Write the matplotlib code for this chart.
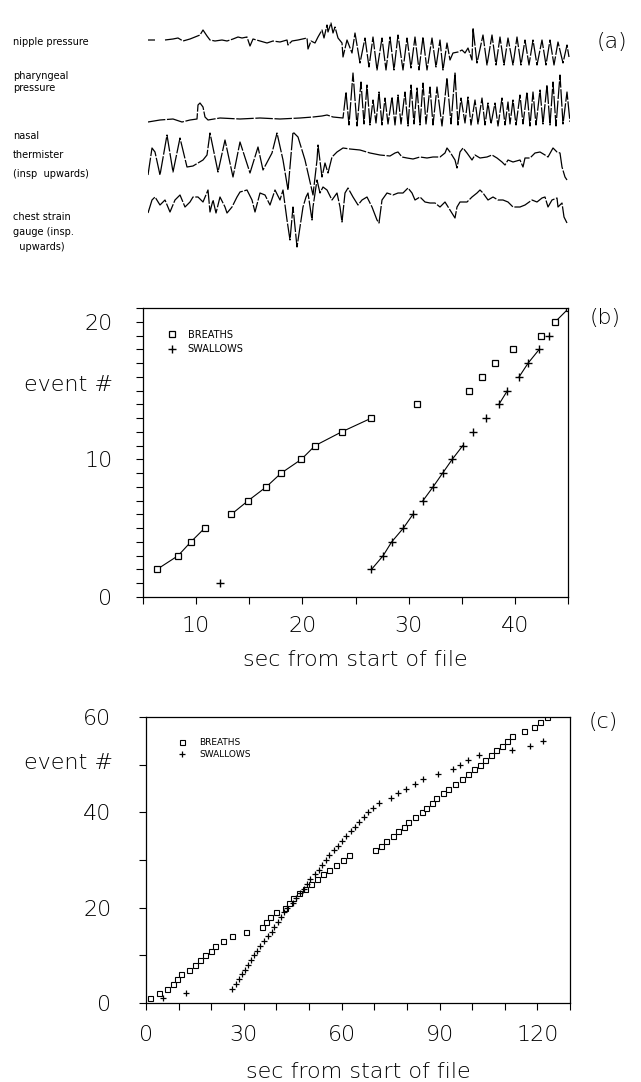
import numpy as np
import matplotlib
matplotlib.use("Agg")
import matplotlib.pyplot as plt
from matplotlib.ticker import MultipleLocator, FixedLocator

plt.rcParams['font.family'] = ['DejaVu Sans']
plt.rcParams['font.weight'] = 'light'
plt.rcParams['axes.labelweight'] = 'light'

# ---------------- data: panel (a) traces (sample, amplitude) ----------------
nan = float('nan')
nipple_trace = [(0,0),(7,0),(nan,nan),(17,0),(25,1),(30,2),(35,-1),(42,1),(47,3),(52,5),(55,10),(59,4),
    (62,0),(67,-1),(74,0),(79,-1),(85,1),(90,3),(94,2),(99,3),(102,-6),(105,1),(112,-1),(119,-3),(125,-1),
    (132,-2),(139,0),(140,-5),(144,-1),(150,0),(159,2),(160,-9),(163,-1),(167,-3),(170,3),(174,10),(176,2),
    (179,15),(180,8),(183,17),(185,7),(187,13),(190,2),(194,-3),(195,-17),(199,0),(204,-13),(207,7),(212,-23),
    (217,2),(221,-27),(225,3),(229,-30),(234,2),(238,-30),(242,3),(246,-30),(250,5),(255,-30),(259,2),(263,-28),
    (267,3),(271,-30),(275,3),(279,-30),(284,2),(288,-27),(292,0),(295,-30),(299,-3),(302,-20),(305,-13),
    (310,-12),(314,-10),(317,-13),(320,-8),(324,-20),(325,12),(329,-23),(335,5),(339,-25),(344,5),(348,-25),
    (352,3),(356,-25),(360,2),(365,-25),(369,3),(373,-25),(377,0),(381,-25),(385,0),(389,-25),(394,0),
    (398,-25),(402,0),(406,-25),(410,-2),(415,-23),(419,-5),(421,-17)]
pharyngeal_trace = [(0,-3),(12,-1),(25,0),(34,-3),(42,-1),(49,0),(50,14),(52,16),(55,12),(57,2),(60,-1),
    (72,1),(92,0),(112,1),(132,0),(152,1),(165,2),(174,3),(179,4),(185,2),(195,1),
    (198,27),(201,-6),(205,46),(209,-7),(213,37),(216,-5),(219,34),(222,-6),(225,19),(228,-4),(231,27),
    (234,-6),(237,21),(240,-5),(244,22),(247,-6),(250,24),(253,-5),(257,27),(260,-7),(263,34),(266,-5),
    (269,31),(272,-6),(275,36),(278,-5),(282,32),(285,-6),(289,32),(294,-7),(299,41),(303,-5),(307,46),
    (310,-6),(313,21),(317,-4),(320,22),(323,-6),(327,19),(330,-5),(334,21),(337,-6),(340,16),(343,-5),
    (347,16),(350,-7),(354,21),(357,-6),(360,17),(362,-5),(365,19),(368,-6),(372,24),(375,-5),(379,27),
    (382,-7),(385,27),(388,-6),(392,29),(395,-5),(399,34),(402,-6),(405,37),(408,-7),(412,44),(415,-5),
    (419,27),(422,-3)]
nasal_trace = [(0,-25),(4,2),(7,-2),(12,-25),(19,15),(25,-22),(32,12),(39,-17),(45,-16),(55,-10),(59,-5),
    (62,17),(70,-22),(77,10),(85,-27),(92,8),(102,-23),(110,3),(115,-20),(124,-3),(129,17),(135,-10),
    (140,-40),(145,18),(150,13),(157,-10),(165,-45),(169,-10),(170,5),(174,-27),(177,-13),(180,-23),
    (184,-7),(189,-2),(195,2),(202,1),(212,0),(222,-3),(232,-5),(242,-6),(247,-3),(250,-2),(254,-7),
    (259,-8),(265,-9),(272,-7),(279,-8),(285,-7),(292,-7),(297,-3),(299,2),(302,-2),(307,-10),(309,-18),
    (312,-2),(315,2),(319,-3),(324,-10),(327,-5),(332,-8),(339,-7),(344,-5),(349,-8),(354,-12),(357,-15),
    (360,-10),(365,-12),(372,-10),(375,-17),(377,-8),(382,-8),(387,-3),(392,-2),(397,-5),(400,-7),(405,2),
    (409,-2),(412,-3),(414,-17),(417,-27),(419,-30)]
chest_trace = [(0,-18),(4,-5),(7,-2),(12,-10),(17,-5),(22,-17),(27,-5),(32,0),(37,-12),(42,-7),(45,-2),
    (50,-2),(55,-7),(60,5),(62,-17),(65,-5),(68,-18),(72,-2),(77,-12),(79,-18),(84,-12),(89,-2),(92,3),
    (99,5),(104,-5),(107,-17),(112,2),(117,0),(122,-10),(127,5),(132,-5),(135,5),(139,-25),(142,-45),
    (145,-12),(149,-52),(152,-32),(155,-12),(158,-2),(160,2),(164,-25),(165,-12),(169,15),(172,2),(175,8),
    (179,5),(184,-5),(189,2),(192,-12),(194,-27),(197,2),(200,7),(205,-2),(210,-10),(214,-5),(219,-2),
    (224,-12),(229,-25),(231,-28),(234,-5),(239,2),(245,0),(250,2),(255,2),(260,7),(264,2),(267,-5),
    (272,-2),(277,-7),(282,-8),(287,-8),(292,-12),(297,-7),(302,-15),(307,-23),(309,-12),(312,-7),
    (319,-7),(324,-2),(329,2),(332,5),(335,2),(340,-5),(345,-2),(350,-5),(355,-5),(360,-7),(365,-12),
    (372,-12),(377,-10),(384,-5),(389,-7),(394,-3),(397,-2),(400,-12),(404,-5),(409,-3),(410,-12),
    (414,-8),(416,-22),(419,-28)]
trace_names = ["nipple pressure", "pharyngeal\npressure", "nasal\nthermister\n(insp  upwards)",
               "chest strain\ngauge (insp.\n  upwards)"]

# ---------------- data: panel (b) ----------------
b_breath_t = [6.3, 8.3, 9.5, 10.8, 13.3, 14.9, 16.6, 18.0, 19.9, 21.2, 23.7, 26.5, 30.8, 35.7, 36.9,
              38.1, 39.8, 42.5, 43.8, 45.1]
b_breath_n = [2, 3, 4, 5, 6, 7, 8, 9, 10, 11, 12, 13, 14, 15, 16, 17, 18, 19, 20, 21]
b_breath_runs = [(0, 4), (4, 12), (18, 20)]
b_swallow_t = [12.2, 26.5, 27.6, 28.4, 29.5, 30.4, 31.35, 32.3, 33.2, 34.1, 35.1, 36.1, 37.3, 38.5,
               39.3, 40.4, 41.25, 42.3, 43.25]
b_swallow_n = [1, 2, 3, 4, 5, 6, 7, 8, 9, 10, 11, 12, 13, 14, 15, 16, 17, 18, 19]
b_swallow_runs = [(1, 6), (6, 11), (13, 15), (15, 18)]

# ---------------- data: panel (c) ----------------
c_breath_t = [1.3, 3.9, 6.3, 8.3, 9.5, 10.8, 13.3, 14.9, 16.6, 18.0, 19.9, 21.2, 23.7, 26.5, 30.8,
              35.7, 36.9, 38.1, 39.8, 42.5, 43.8, 45.0, 46.8, 48.6, 50.5, 52.5, 54.3, 56.2, 58.3, 60.3,
              62.2, 70.3, 72.0, 73.6, 75.6, 77.4, 79.0, 80.4, 82.6, 84.6, 86.0, 87.6, 89.0, 91.0, 92.6,
              94.6, 96.8, 98.8, 100.6, 102.4, 104.0, 105.8, 107.4, 109.0, 110.8, 112.2, 115.8, 118.9,
              120.9, 122.8]
c_breath_n = [1, 2, 3, 4, 5, 6, 7, 8, 9, 10, 11, 12, 13, 14, 15, 16, 17, 18, 19, 20, 21, 22, 23, 24,
              25, 26, 27, 28, 29, 30, 31, 32, 33, 34, 35, 36, 37, 38, 39, 40, 41, 42, 43, 44, 45, 46,
              47, 48, 49, 50, 51, 52, 53, 54, 55, 56, 57, 58, 59, 60]
c_swallow_t = [5.3, 12.4, 26.5, 27.6, 28.4, 29.5, 30.4, 31.35, 32.3, 33.2, 34.1, 35.1, 36.1, 37.3,
               38.5, 39.3, 40.4, 41.25, 42.3, 43.25, 45.0, 46.0, 47.3, 48.3, 49.5, 50.4, 51.8, 52.9,
               54.0, 55.3, 56.2, 57.6, 58.9, 60.2, 61.2, 62.8, 64.1, 65.2, 66.7, 68.1, 69.5, 71.4,
               75.0, 77.2, 79.6, 82.4, 84.8, 89.4, 94.0, 96.4, 98.6, 102.0, 112.3, 117.8, 121.8]
c_swallow_n = [1, 2, 3, 4, 5, 6, 7, 8, 9, 10, 11, 12, 13, 14, 15, 16, 17, 18, 19, 20, 21, 22, 23, 24,
               25, 26, 27, 28, 29, 30, 31, 32, 33, 34, 35, 36, 37, 38, 39, 40, 41, 42, 43, 44, 45, 46,
               47, 48, 49, 50, 51, 52, 53, 54, 55]

legend_labels = ["BREATHS", "SWALLOWS"]
xlabel_text = "sec from start of file"
ylabel_text = "event #"
b_xticks_major = [10, 20, 30, 40]
b_yticks_major = [0, 10, 20]
c_xticks_major = [0, 30, 60, 90, 120]
c_yticks_major = [0, 20, 40, 60]

# ---------------- layout ----------------
W, H, DPI = 641, 1082, 100
fig = plt.figure(figsize=(W / DPI, H / DPI), dpi=DPI)
fig.patch.set_facecolor('white')

def rect(l, t, r, b):
    return [l / W, 1 - b / H, (r - l) / W, (b - t) / H]

def ftext(x, y, s, **kw):
    fig.text(x / W, 1 - y / H, s, **kw)

# ---------------- panel (a) ----------------
axA = fig.add_axes(rect(148, 0, 570, 260))
axA.set_xlim(0, 422)
axA.set_ylim(-260, 0)
axA.axis('off')
baselines = [40, 119, 150, 195]
for trace, base in zip([nipple_trace, pharyngeal_trace, nasal_trace, chest_trace], baselines):
    arr = np.array(trace, dtype=float)
    axA.plot(arr[:, 0], arr[:, 1] - base, color='black', lw=0.9,
             ls=(0, (14, 1.3)), solid_joinstyle='miter')

label_pos = [(13, 42), (13, 76), (13, 136), (13, 217)]
label_spacing = [0, 12, 19, 15]
for name, (x, y), sp in zip(trace_names, label_pos, label_spacing):
    for i, line in enumerate(name.split("\n")):
        ftext(x, y + i * sp, line, fontsize=7, fontweight='normal', va='center', ha='left')
ftext(612, 42, "(a)", fontsize=16, va='center', ha='center')

# ---------------- helpers ----------------
def style_axes(ax, ypad, xpad):
    for sp in ax.spines.values():
        sp.set_linewidth(0.9)
    ax.tick_params(which='both', direction='out', length=5, width=0.8, labelsize=16)
    ax.tick_params(axis='y', which='both', pad=ypad)
    ax.tick_params(axis='x', which='both', pad=xpad)

# ---------------- panel (b) ----------------
axB = fig.add_axes(rect(143, 308, 568, 597))
axB.set_xlim(5, 45)
axB.set_ylim(0, 21)
bt, bn = np.array(b_breath_t), np.array(b_breath_n)
st, sn = np.array(b_swallow_t), np.array(b_swallow_n)
for s, e in b_breath_runs:
    axB.plot(bt[s:e], bn[s:e], color='black', lw=0.8)
for s, e in b_swallow_runs:
    axB.plot(st[s:e], sn[s:e], color='black', lw=0.8)
axB.plot(bt, bn, ls='none', marker='s', ms=4.2, mfc='white', mec='black', mew=0.9, label=legend_labels[0])
axB.plot(st, sn, ls='none', marker='+', ms=5.5, mec='black', mew=1.0, label=legend_labels[1])
axB.xaxis.set_major_locator(FixedLocator(b_xticks_major))
axB.xaxis.set_minor_locator(MultipleLocator(5))
axB.yaxis.set_major_locator(FixedLocator(b_yticks_major))
axB.yaxis.set_minor_locator(MultipleLocator(1))
style_axes(axB, ypad=17, xpad=9)
axB.set_xlabel(xlabel_text, fontsize=16, labelpad=10)
axB.set_ylabel(ylabel_text, fontsize=16, rotation=0, ha='right', va='center')
axB.yaxis.set_label_coords(-0.07, 0.733)
axB.legend(loc='upper left', bbox_to_anchor=(0.057, 0.925), frameon=False, fontsize=7,
           prop={'weight': 'normal', 'size': 7},
           handlelength=1.0, handletextpad=1.1, labelspacing=0.45, borderpad=0, borderaxespad=0)
ftext(605, 318, "(b)", fontsize=16, va='center', ha='center')

# ---------------- panel (c) ----------------
axC = fig.add_axes(rect(146, 717, 570, 1003))
axC.set_xlim(0, 130)
axC.set_ylim(0, 60)
axC.plot(c_breath_t, c_breath_n, ls='none', marker='s', ms=3.6, mfc='white', mec='black', mew=0.8,
         label=legend_labels[0])
axC.plot(c_swallow_t, c_swallow_n, ls='none', marker='+', ms=4.2, mec='black', mew=0.9,
         label=legend_labels[1])
axC.xaxis.set_major_locator(FixedLocator(c_xticks_major))
axC.xaxis.set_minor_locator(MultipleLocator(10))
axC.yaxis.set_major_locator(FixedLocator(c_yticks_major))
axC.yaxis.set_minor_locator(MultipleLocator(10))
style_axes(axC, ypad=20, xpad=11)
axC.set_xlabel(xlabel_text, fontsize=16, labelpad=12)
axC.set_ylabel(ylabel_text, fontsize=16, rotation=0, ha='right', va='center')
axC.yaxis.set_label_coords(-0.078, 0.839)
axC.legend(loc='upper left', bbox_to_anchor=(0.075, 0.925), frameon=False,
           prop={'weight': 'normal', 'size': 6.5},
           handlelength=1.0, handletextpad=1.4, labelspacing=0.3, borderpad=0, borderaxespad=0)
ftext(603, 722, "(c)", fontsize=16, va='center', ha='center')

fig.savefig("out.png", dpi=DPI, facecolor='white')
